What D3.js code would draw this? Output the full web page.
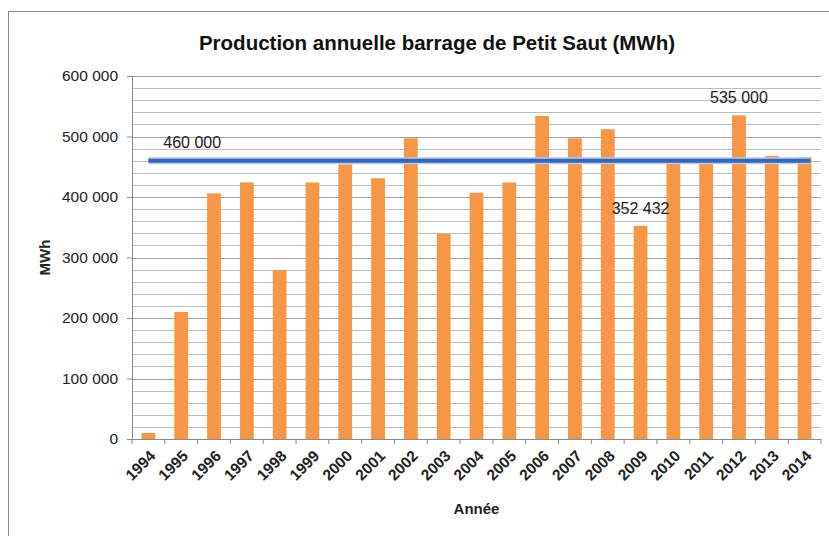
<!DOCTYPE html>
<html>
<head>
<meta charset="utf-8">
<script src="https://cdn.jsdelivr.net/npm/d3@7"></script>
<style>
  body { margin: 0; background: #fff; }
  svg { display: block; font-family: "Liberation Sans", Arial, sans-serif; }
</style>
</head>
<body>
<svg id="chart" width="829" height="536"></svg>
<script>
const years = ['1994', '1995', '1996', '1997', '1998', '1999', '2000', '2001', '2002', '2003', '2004',
  '2005', '2006', '2007', '2008', '2009', '2010', '2011', '2012', '2013', '2014']
const production = [10000, 210000, 406000, 424000, 279000, 424000, 454000, 431000, 497000, 339000, 407000,
  424000, 534000, 497000, 512000, 352432, 455000, 455000, 535000, 468000, 466000]
const reference = 460000
const yTicks = [0, 100000, 200000, 300000, 400000, 500000, 600000]
const barLabels = [
  { year: '2009', value: 352432, text: '352 432' },
  { year: '2012', value: 535000, text: '535 000' }
]
const lineLabel = { year: '1995', value: reference, text: '460 000' }

const svg = d3.select('#chart')
const W = 829, H = 536
const m = { left: 132, right: 8, top: 76, bottom: 97 }

const fmt = (v)=> d3.format(',')(v).replace(/,/g, ' ')

// chart frame
svg.append('rect')
  .attr('x', 8.5).attr('y', 11.5)
  .attr('width', W).attr('height', H)
  .attr('fill', '#fff')
  .attr('stroke', '#8a8a8a')

const x = d3.scaleBand()
  .domain(years)
  .range([m.left, W - m.right])
  .paddingInner(0.58)
  .paddingOuter(0.29)

const y = d3.scaleLinear()
  .domain([0, 600000])
  .range([H - m.bottom, m.top])

// gridlines, minor every 20 000
const grid = svg.append('g')
grid.selectAll('line')
  .data(d3.range(20000, 600001, 20000))
  .enter()
  .append('line')
  .attr('x1', m.left).attr('x2', W - m.right)
  .attr('y1', (d)=> Math.round(y(d)) + 0.5)
  .attr('y2', (d)=> Math.round(y(d)) + 0.5)
  .attr('stroke', (d)=> d % 100000 === 0 ? '#a0a0a0' : '#bdbdbd')

// bars
svg.selectAll('.bar')
  .data(production)
  .enter()
  .append('rect')
  .attr('class', 'bar')
  .attr('x', (d, i)=> x(years[i]))
  .attr('width', x.bandwidth())
  .attr('y', (d)=> y(d))
  .attr('height', (d)=> y(0) - y(d))
  .attr('fill', '#f79646')

// reference line
const first = x(years[0]) + x.bandwidth() / 2
const last = x(years[years.length - 1]) + x.bandwidth() / 2
svg.append('line')
  .attr('x1', first).attr('x2', last + 6)
  .attr('y1', y(reference)).attr('y2', y(reference))
  .attr('stroke', '#b9cdec')
  .attr('stroke-width', 7)
svg.append('line')
  .attr('x1', first).attr('x2', last + 6)
  .attr('y1', y(reference)).attr('y2', y(reference))
  .attr('stroke', '#3565b6')
  .attr('stroke-width', 4)

// axes
const yAxis = svg.append('g')
  .attr('transform', `translate(${m.left},0)`)
  .call(d3.axisLeft(y).tickValues(yTicks).tickSize(5).tickFormat(fmt))
yAxis.select('.domain').attr('stroke', '#8a8a8a')
yAxis.selectAll('.tick line').attr('stroke', '#8a8a8a')
yAxis.selectAll('.tick text')
  .attr('font-size', 15.5)
  .attr('font-family', '"Liberation Sans", Arial, sans-serif')
  .attr('fill', '#222')
  .attr('x', -14)

const xAxis = svg.append('g')
  .attr('transform', `translate(0,${y(0)})`)
  .call(d3.axisBottom(x).tickSize(0))
xAxis.select('.domain').attr('stroke', '#8a8a8a')
xAxis.selectAll('.tick text')
  .attr('font-size', 15.5)
  .attr('font-weight', 'bold')
  .attr('font-family', '"Liberation Sans", Arial, sans-serif')
  .attr('fill', '#222')
  .attr('text-anchor', 'end')
  .attr('dy', 0)
  .attr('y', 0)
  .attr('transform', 'translate(8,18) rotate(-45)')

// ticks between categories
xAxis.selectAll('.sep')
  .data(years.concat(['end']))
  .enter()
  .append('line')
  .attr('class', 'sep')
  .attr('x1', (d, i)=> m.left + i * x.step())
  .attr('x2', (d, i)=> m.left + i * x.step())
  .attr('y1', 0).attr('y2', 5)
  .attr('stroke', '#8a8a8a')

// titles
svg.append('text')
  .attr('x', 437).attr('y', 50)
  .attr('text-anchor', 'middle')
  .attr('font-size', 20.5)
  .attr('font-weight', 'bold')
  .attr('fill', '#111')
  .text('Production annuelle barrage de Petit Saut (MWh)')

svg.append('text')
  .attr('transform', `translate(50,${(y(0) + y(600000)) / 2}) rotate(-90)`)
  .attr('text-anchor', 'middle')
  .attr('font-size', 15)
  .attr('font-weight', 'bold')
  .attr('fill', '#222')
  .text('MWh')

svg.append('text')
  .attr('x', (m.left + W - m.right) / 2).attr('y', 514)
  .attr('text-anchor', 'middle')
  .attr('font-size', 15)
  .attr('font-weight', 'bold')
  .attr('fill', '#222')
  .text('Année')

// data labels
svg.selectAll('.bar-label')
  .data(barLabels)
  .enter()
  .append('text')
  .attr('class', 'bar-label')
  .attr('x', (d)=> x(d.year) + x.bandwidth() / 2)
  .attr('y', (d)=> y(d.value) - 12)
  .attr('text-anchor', 'middle')
  .attr('font-size', 16)
  .attr('fill', '#222')
  .text((d)=> d.text)

svg.append('text')
  .attr('x', x(lineLabel.year) + x.bandwidth() / 2 + 11)
  .attr('y', y(lineLabel.value) - 13)
  .attr('text-anchor', 'middle')
  .attr('font-size', 16)
  .attr('fill', '#222')
  .text(lineLabel.text)
</script>
</body>
</html>
